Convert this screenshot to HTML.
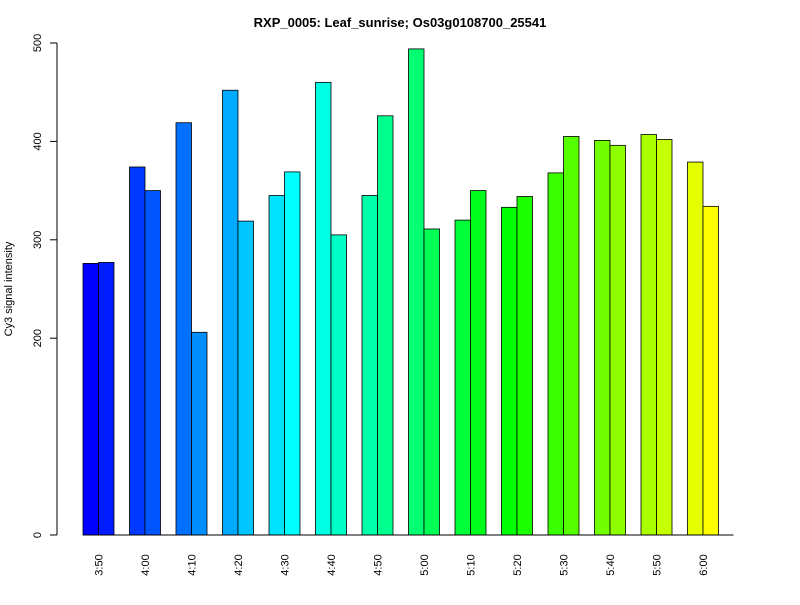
<!DOCTYPE html>
<html><head><meta charset="utf-8"><style>body{margin:0;background:#fff}svg{font-family:"Liberation Sans",sans-serif}</style></head>
<body>
<svg width="800" height="600" viewBox="0 0 800 600" id="c">
<rect width="800" height="600" fill="#fff"/>
<text x="400" y="27" text-anchor="middle" font-size="13" font-weight="bold">RXP_0005: Leaf_sunrise; Os03g0108700_25541</text>
<text transform="translate(12,289) rotate(-90)" text-anchor="middle" font-size="11">Cy3 signal intensity</text>
<g id="bars"></g><g id="axes"></g>
</svg>
<script>
const categories=["3:50","4:00","4:10","4:20","4:30","4:40","4:50","5:00","5:10","5:20","5:30","5:40","5:50","6:00"];
const series1=[276,374,419,452,345,460,345,494,320,333,368,401,407,379];
const series2=[277,350,206,319,369,305,426,311,350,344,405,396,402,334];
const yTicks=[0,200,300,400,500];
const NS="http://www.w3.org/2000/svg";
const y=v=>535-v*0.984;
const bw=15.5, x0=83;
const xb=(g,k)=>x0+g*3*bw+k*bw;
const bars=document.getElementById('bars'), axes=document.getElementById('axes');
function mk(t,a,p){const e=document.createElementNS(NS,t);for(const k in a)e.setAttribute(k,a[k]);p.appendChild(e);return e;}
const n=categories.length*2;
categories.forEach((c,g)=>{
 [series1[g],series2[g]].forEach((v,k)=>{
  const i=g*2+k, h=240-i*180/(n-1);
  const r=mk('rect',{x:xb(g,k),y:y(v),width:bw,height:535-y(v),fill:`hsl(${h},100%,50%)`,stroke:'#000','stroke-width':0.8},bars);
  
  
 });
 const t=mk('text',{transform:`translate(${xb(g,1)+4},565) rotate(-90)`,'text-anchor':'middle','font-size':11},axes);
 
 
 t.textContent=c;
});
const yl=mk('line',{x1:57,x2:57,y1:y(500),y2:y(0),stroke:'#000'},axes);


const xl=mk('line',{x1:x0,x2:xb(13,1)+bw+15,y1:535,y2:535,stroke:'#000'},axes);


yTicks.forEach(v=>{
 const l=mk('line',{x1:50,x2:57,y1:y(v),y2:y(v),stroke:'#000'},axes);
 
 
 const t=mk('text',{transform:`translate(41,${y(v)}) rotate(-90)`,'text-anchor':'middle','font-size':11},axes);
 
 
 t.textContent=v;
});
</script>
</body></html>
